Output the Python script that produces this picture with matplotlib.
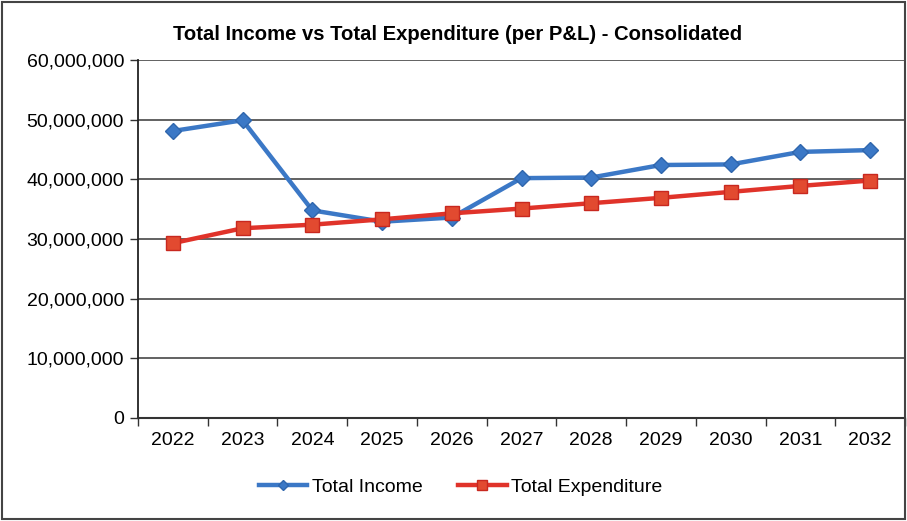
import matplotlib.pyplot as plt
from matplotlib.patches import Rectangle
from matplotlib.ticker import FuncFormatter

years = ['2022', '2023', '2024', '2025', '2026', '2027', '2028', '2029', '2030', '2031', '2032']
total_income = [48.1e6, 49.9e6, 34.8e6, 32.9e6, 33.6e6, 40.2e6, 40.3e6, 42.4e6, 42.5e6, 44.6e6, 44.9e6]
total_expenditure = [29.3e6, 31.8e6, 32.4e6, 33.3e6, 34.3e6, 35.1e6, 36.0e6, 36.9e6, 37.9e6, 38.9e6, 39.8e6]

plt.rcParams['font.family'] = ['Liberation Sans Narrow', 'Liberation Sans', 'DejaVu Sans']

fig = plt.figure(figsize=(9.07, 5.21), dpi=100)
ax = fig.add_axes([138 / 907, 1 - 418 / 521, 767 / 907, 358 / 521])

x = list(range(len(years)))
ax.plot(x, total_income, color='#3b78c6', lw=3.2, marker='D', ms=8,
        mfc='#3b78c6', mec='#2f66ad', label='Total Income', zorder=3)
ax.plot(x, total_expenditure, color='#e0332a', lw=3.2, marker='s', ms=10,
        mfc='#e24a30', mec='#c8281f', label='Total Expenditure', zorder=4)

ax.set_ylim(0, 60e6)
ax.set_xlim(-0.5, len(years) - 0.5)
ax.set_yticks(range(0, 60000001, 10000000))
ax.yaxis.set_major_formatter(FuncFormatter(lambda v, p: f'{int(v):,}'))
ax.set_xticks(x)
ax.set_xticklabels(years)
ax.set_xticks([i - 0.5 for i in range(len(years) + 1)], minor=True)
ax.tick_params(axis='x', which='major', length=0, labelsize=14, pad=10)
ax.tick_params(axis='x', which='minor', length=6, width=1, color='#333333')
ax.tick_params(axis='y', length=6, width=1, color='#333333', labelsize=14, pad=4)

ax.grid(axis='y', color='#555555', lw=1.3)
ax.set_axisbelow(True)
for side in ['top', 'right']:
    ax.spines[side].set_visible(False)
ax.spines['left'].set_color('#222222')
ax.spines['left'].set_linewidth(1.3)
ax.spines['bottom'].set_color('#333333')
ax.spines['bottom'].set_linewidth(1.5)

fig.text(0.505, 1 - 35 / 521, 'Total Income vs Total Expenditure (per P&L) - Consolidated',
         ha='center', va='center', fontsize=14.6, fontweight='bold')

fig.legend(loc='center', bbox_to_anchor=(0.508, 1 - 487 / 521), ncol=2, frameon=False,
           fontsize=14, handlelength=2.5, columnspacing=1.8, handletextpad=0.25,
           markerscale=0.7)

fig.patches.append(Rectangle((0.002, 0.004), 0.996, 0.992, transform=fig.transFigure,
                             fill=False, ec='#444444', lw=1.5))

fig.savefig('out.png', dpi=100, facecolor='white')
